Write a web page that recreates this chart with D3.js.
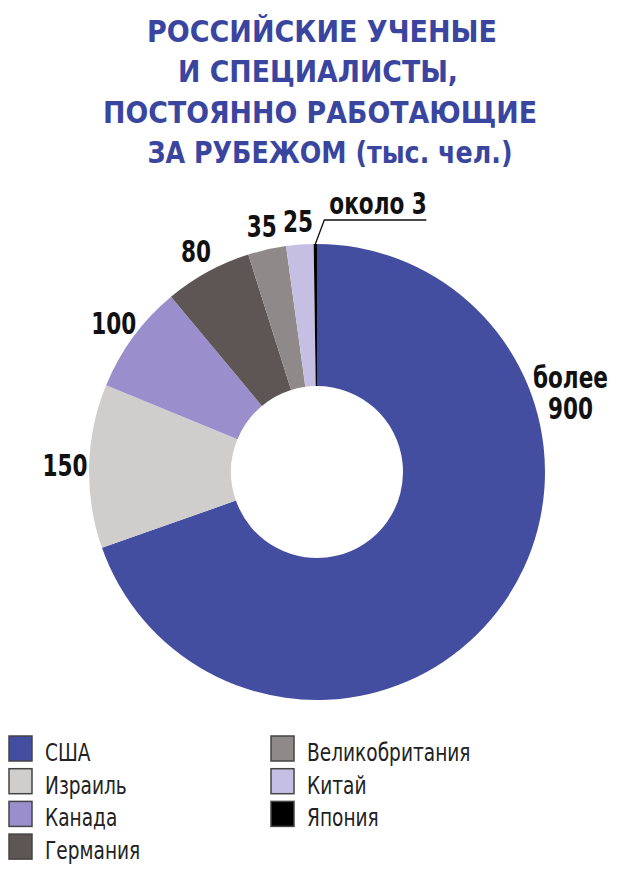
<!DOCTYPE html>
<html>
<head>
<meta charset="utf-8">
<script src="https://cdn.jsdelivr.net/npm/d3@7"></script>
<style>
    body { margin: 0; background: #fff; }
    svg text { font-family: "Liberation Sans Narrow", "DejaVu Sans Condensed", "Liberation Sans", sans-serif; }
</style>
</head>
<body>
<svg id="chart"></svg>
<script>
// данные (тыс. чел.)
const countries = ['США', 'Израиль', 'Канада', 'Германия', 'Великобритания', 'Китай', 'Япония'];
const values = [900, 150, 100, 80, 35, 25, 3];
const value_labels = ['более\n900', '150', '100', '80', '35', '25', 'около 3'];
const colors = ['#434ea1', '#d0cecd', '#9a8fcc', '#5e5654', '#8f8a89', '#c6bfe4', '#000000'];
const title_lines = ['РОССИЙСКИЕ УЧЕНЫЕ', 'И СПЕЦИАЛИСТЫ,', 'ПОСТОЯННО РАБОТАЮЩИЕ', 'ЗА РУБЕЖОМ (тыс. чел.)'];

let width = 620, height = 874;
let svg = d3.select('#chart')
    .attr('width', width)
    .attr('height', height);

// заголовок
let title_len = [350, 280, 434, 365];
let title_x = [322, 318, 320, 330];
svg.append('g')
    .selectAll('text')
    .data(title_lines)
    .enter().append('text')
    .attr('x', (d, i) => title_x[i])
    .attr('y', (d, i) => 42 + i * 40.3)
    .attr('text-anchor', 'middle')
    .attr('font-size', 30)
    .attr('font-weight', 'bold')
    .attr('fill', '#3a45a0')
    .attr('textLength', (d, i) => title_len[i])
    .attr('lengthAdjust', 'spacingAndGlyphs')
    .text(d => d);

// кольцевая диаграмма
let cx = 317, cy = 472;
let r_outer = 228, r_inner = 86;
let table = countries.map((c, i) => ({ name: c, value: values[i], label: value_labels[i], color: colors[i] }));

let pie = d3.pie().sort(null).value(d => d.value);
let arcs = pie(table);
let arc = d3.arc().innerRadius(r_inner).outerRadius(r_outer);

let g = svg.append('g').attr('transform', `translate(${cx}, ${cy})`);
g.selectAll('path')
    .data(arcs)
    .enter().append('path')
    .attr('d', arc)
    .attr('fill', d => d.data.color);

// подписи значений (узкий шрифт -> сжимаем по горизонтали)
let label_arc = d3.arc().innerRadius(252).outerRadius(252);
let sx = 0.8;
function add_label(x, y, anchor) {
    return g.append('g')
        .attr('transform', `translate(${x}, ${y}) scale(${sx}, 1)`)
        .append('text')
        .attr('text-anchor', anchor)
        .attr('font-size', 30)
        .attr('font-weight', 'bold')
        .attr('fill', '#111');
}
arcs.forEach((d, i) => {
    if (i === 0) {
        // США: подпись справа, в две строки
        let a = 73 * Math.PI / 180;
        let lx = Math.sin(a) * 265, ly = -Math.cos(a) * 265;
        d.data.label.split('\n').forEach((s, k) => {
            add_label(lx, ly - 7 + k * 31, 'middle').text(s);
        });
    } else if (i === arcs.length - 1) {
        // Япония: выноска
        let a = (d.startAngle + d.endAngle) / 2;
        let p0 = [Math.sin(a) * r_outer, -Math.cos(a) * r_outer];
        let p1 = [p0[0] + 9, p0[1] - 24];
        let p2 = [p1[0] + 102, p1[1]];
        g.append('path')
            .attr('d', d3.line()([p0, p1, p2]))
            .attr('fill', 'none')
            .attr('stroke', '#111')
            .attr('stroke-width', 1.3);
        add_label(p1[0] + 5, p1[1] - 6, 'start').text(d.data.label);
    } else {
        let c = label_arc.centroid(d);
        add_label(c[0], c[1], 'middle')
            .attr('dy', '0.36em')
            .text(d.data.label);
    }
});

// легенда
let legend = svg.append('g');
let per_col = 4;
let items = legend.selectAll('g')
    .data(table)
    .enter().append('g')
    .attr('transform', (d, i) => `translate(${i < per_col ? 9 : 271}, ${736 + (i % per_col) * 32.7})`);
items.append('rect')
    .attr('width', 23).attr('height', 25)
    .attr('fill', d => d.color)
    .attr('stroke', '#444')
    .attr('stroke-width', 1.5);
items.append('g')
    .attr('transform', 'translate(36, 25) scale(0.86, 1)')
    .append('text')
    .attr('font-size', 24)
    .attr('fill', '#222')
    .text(d => d.name);
</script>
</body>
</html>
